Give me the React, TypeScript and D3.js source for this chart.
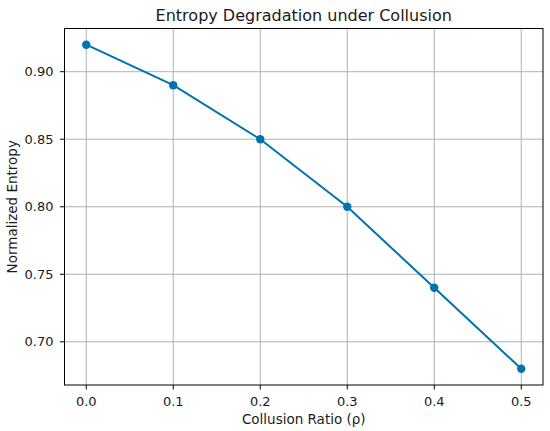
import * as d3 from "d3";

const ratios = [0.0, 0.1, 0.2, 0.3, 0.4, 0.5];
const entropy = [0.92, 0.89, 0.85, 0.8, 0.74, 0.68];
const xTicks = [0.0, 0.1, 0.2, 0.3, 0.4, 0.5];
const yTicks = [0.7, 0.75, 0.8, 0.85, 0.9];

const W = 550;
const H = 431;
const m = { left: 64.5, right: 7, top: 28.5, bottom: 46 };
const color = "#0072B2";
const font = "DejaVu Sans, sans-serif";
const textColor = "#1a1a1a";

export default function App() {
  const x = d3.scaleLinear().domain([-0.025, 0.525]).range([m.left, W - m.right]);
  const y = d3.scaleLinear().domain([0.668, 0.932]).range([H - m.bottom, m.top]);
  const pts = ratios.map((r, i) => [r, entropy[i]] as [number, number]);
  const line = d3
    .line<[number, number]>()
    .x((d) => x(d[0]))
    .y((d) => y(d[1]));

  const x0 = m.left;
  const x1 = W - m.right;
  const y0 = H - m.bottom;
  const y1 = m.top;

  return (
    <svg
      width={W}
      height={H}
      style={{ position: "absolute", left: 0, top: 0, background: "#fff" }}
      fontFamily={font}
    >
      {xTicks.map((t) => (
        <line key={"gx" + t} x1={x(t)} x2={x(t)} y1={y0} y2={y1} stroke="#b0b0b0" strokeWidth={1} />
      ))}
      {yTicks.map((t) => (
        <line key={"gy" + t} x1={x0} x2={x1} y1={y(t)} y2={y(t)} stroke="#b0b0b0" strokeWidth={1} />
      ))}
      <path d={line(pts) ?? ""} fill="none" stroke={color} strokeWidth={2} />
      {pts.map((d, i) => (
        <circle key={i} cx={x(d[0])} cy={y(d[1])} r={4.2} fill={color} />
      ))}
      <rect x={x0} y={y1} width={x1 - x0} height={y0 - y1} fill="none" stroke="#000" strokeWidth={1} />
      {xTicks.map((t) => (
        <g key={"tx" + t}>
          <line x1={x(t)} x2={x(t)} y1={y0} y2={y0 + 4.5} stroke="#000" strokeWidth={1} />
          <text x={x(t)} y={y0 + 21} textAnchor="middle" fontSize={13} fill={textColor}>
            {d3.format(".1f")(t)}
          </text>
        </g>
      ))}
      {yTicks.map((t) => (
        <g key={"ty" + t}>
          <line x1={x0 - 4.5} x2={x0} y1={y(t)} y2={y(t)} stroke="#000" strokeWidth={1} />
          <text x={x0 - 11} y={y(t)} dy="0.36em" textAnchor="end" fontSize={13} fill={textColor}>
            {d3.format(".2f")(t)}
          </text>
        </g>
      ))}
      <text x={(x0 + x1) / 2} y={21} textAnchor="middle" fontSize={16} fill={textColor}>
        Entropy Degradation under Collusion
      </text>
      <text x={(x0 + x1) / 2} y={H - 7} textAnchor="middle" fontSize={13.5} fill={textColor}>
        Collusion Ratio (ρ)
      </text>
      <text
        transform={`translate(17,${(y0 + y1) / 2}) rotate(-90)`}
        textAnchor="middle"
        fontSize={13.5}
        fill={textColor}
      >
        Normalized Entropy
      </text>
    </svg>
  );
}
